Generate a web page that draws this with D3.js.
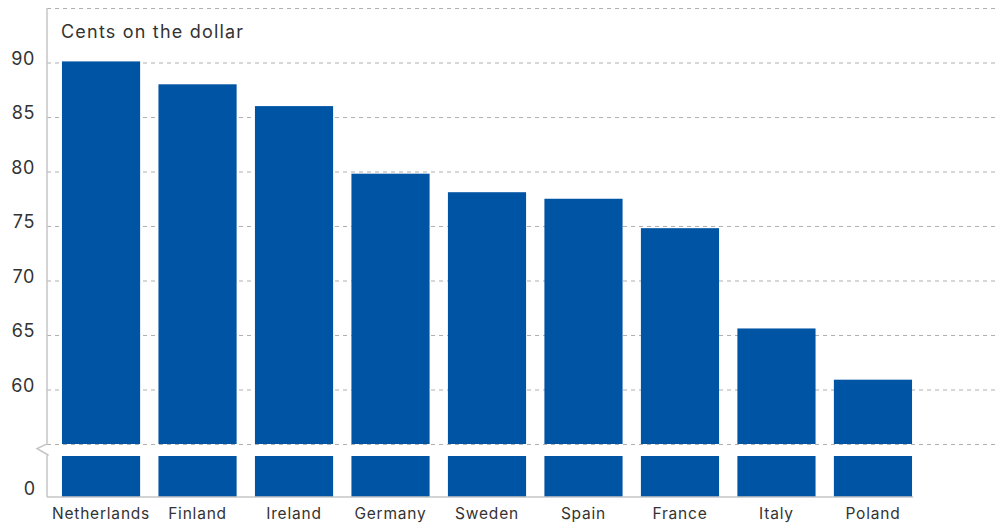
<!DOCTYPE html>
<html><head><meta charset="utf-8">
<script src="https://cdn.jsdelivr.net/npm/d3@7"></script>
<style>body{margin:0;background:#fff}svg{display:block}text{font-family:Inter,"Open Sans",sans-serif}</style>
</head><body><svg id="c" width="999" height="524"></svg>
<script>
const categories = ["Netherlands","Finland","Ireland","Germany","Sweden","Spain","France","Italy","Poland"];
const values = [90.1, 88.0, 86.0, 79.8, 78.1, 77.5, 74.8, 65.6, 60.9];
const upperTicks = [60, 65, 70, 75, 80, 85, 90];
const gridValues = [55, 60, 65, 70, 75, 80, 85, 90, 95];
const lowerTicks = [0];
const yTitle = "Cents on the dollar";

const svg = d3.select("#c");
const axisX = 47, rightX = 999;
const x = d3.scaleBand().domain(categories).range([52.8, 921.2]).paddingInner(0.19).paddingOuter(0.095);
const yU = d3.scaleLinear().domain([55, 95]).range([444, 8]);
const yL = d3.scaleLinear().domain([0, 55]).range([497, 456]);
const barColor = "#0054a4", gridColor = "#b0b0b0", axisColor = "#c6c6c6", textColor = "#333";

// gridlines
svg.append("g").selectAll("line").data(gridValues).join("line")
  .attr("x1", axisX).attr("x2", rightX)
  .attr("y1", d => yU(d) + 0.5).attr("y2", d => yU(d) + 0.5)
  .attr("stroke", gridColor).attr("stroke-width", 1.2).attr("stroke-dasharray", "4,4");

// bars - upper part
svg.append("g").selectAll("rect").data(values).join("rect")
  .attr("x", (d, i) => x(categories[i])).attr("width", x.bandwidth())
  .attr("y", d => yU(d)).attr("height", d => yU(55) - yU(d))
  .attr("fill", barColor);
// bars - lower part
svg.append("g").selectAll("rect").data(values).join("rect")
  .attr("x", (d, i) => x(categories[i])).attr("width", x.bandwidth())
  .attr("y", yL(55)).attr("height", yL(0) - yL(55))
  .attr("fill", barColor);

// y axis with break
svg.append("path")
  .attr("d", `M${axisX},${yU(95)} V${yU(55)} L${axisX-10},${yU(55)+4.5} L${axisX+1},${yL(55)-1} L${axisX},${yL(55)} V${yL(0)}`)
  .attr("fill", "none").attr("stroke", axisColor).attr("stroke-width", 1.5);
// x axis line
svg.append("line").attr("x1", axisX).attr("x2", x.range()[1] - 8)
  .attr("y1", yL(0)).attr("y2", yL(0)).attr("stroke", axisColor).attr("stroke-width", 1.5);

// tick labels
svg.append("g").selectAll("text").data(upperTicks).join("text")
  .attr("x", 35).attr("y", d => yU(d) - 4).attr("dy", "0.35em")
  .attr("text-anchor", "end").attr("font-size", 18).attr("letter-spacing", 0.6).attr("fill", textColor).text(d => d);
svg.append("g").selectAll("text").data(lowerTicks).join("text")
  .attr("x", 35).attr("y", d => yL(d) - 8).attr("dy", "0.35em")
  .attr("text-anchor", "end").attr("font-size", 18).attr("fill", textColor).text(d => d);

// category labels
svg.append("g").selectAll("text").data(categories).join("text")
  .attr("x", d => x(d) + x.bandwidth() / 2).attr("y", 519)
  .attr("text-anchor", "middle").attr("font-size", 15.5).attr("letter-spacing", 0.8).attr("fill", textColor).text(d => d);

// title
svg.append("text").attr("x", 61).attr("y", 38).attr("font-size", 18).attr("letter-spacing", 1.2).attr("fill", textColor).text(yTitle);
</script></body></html>
